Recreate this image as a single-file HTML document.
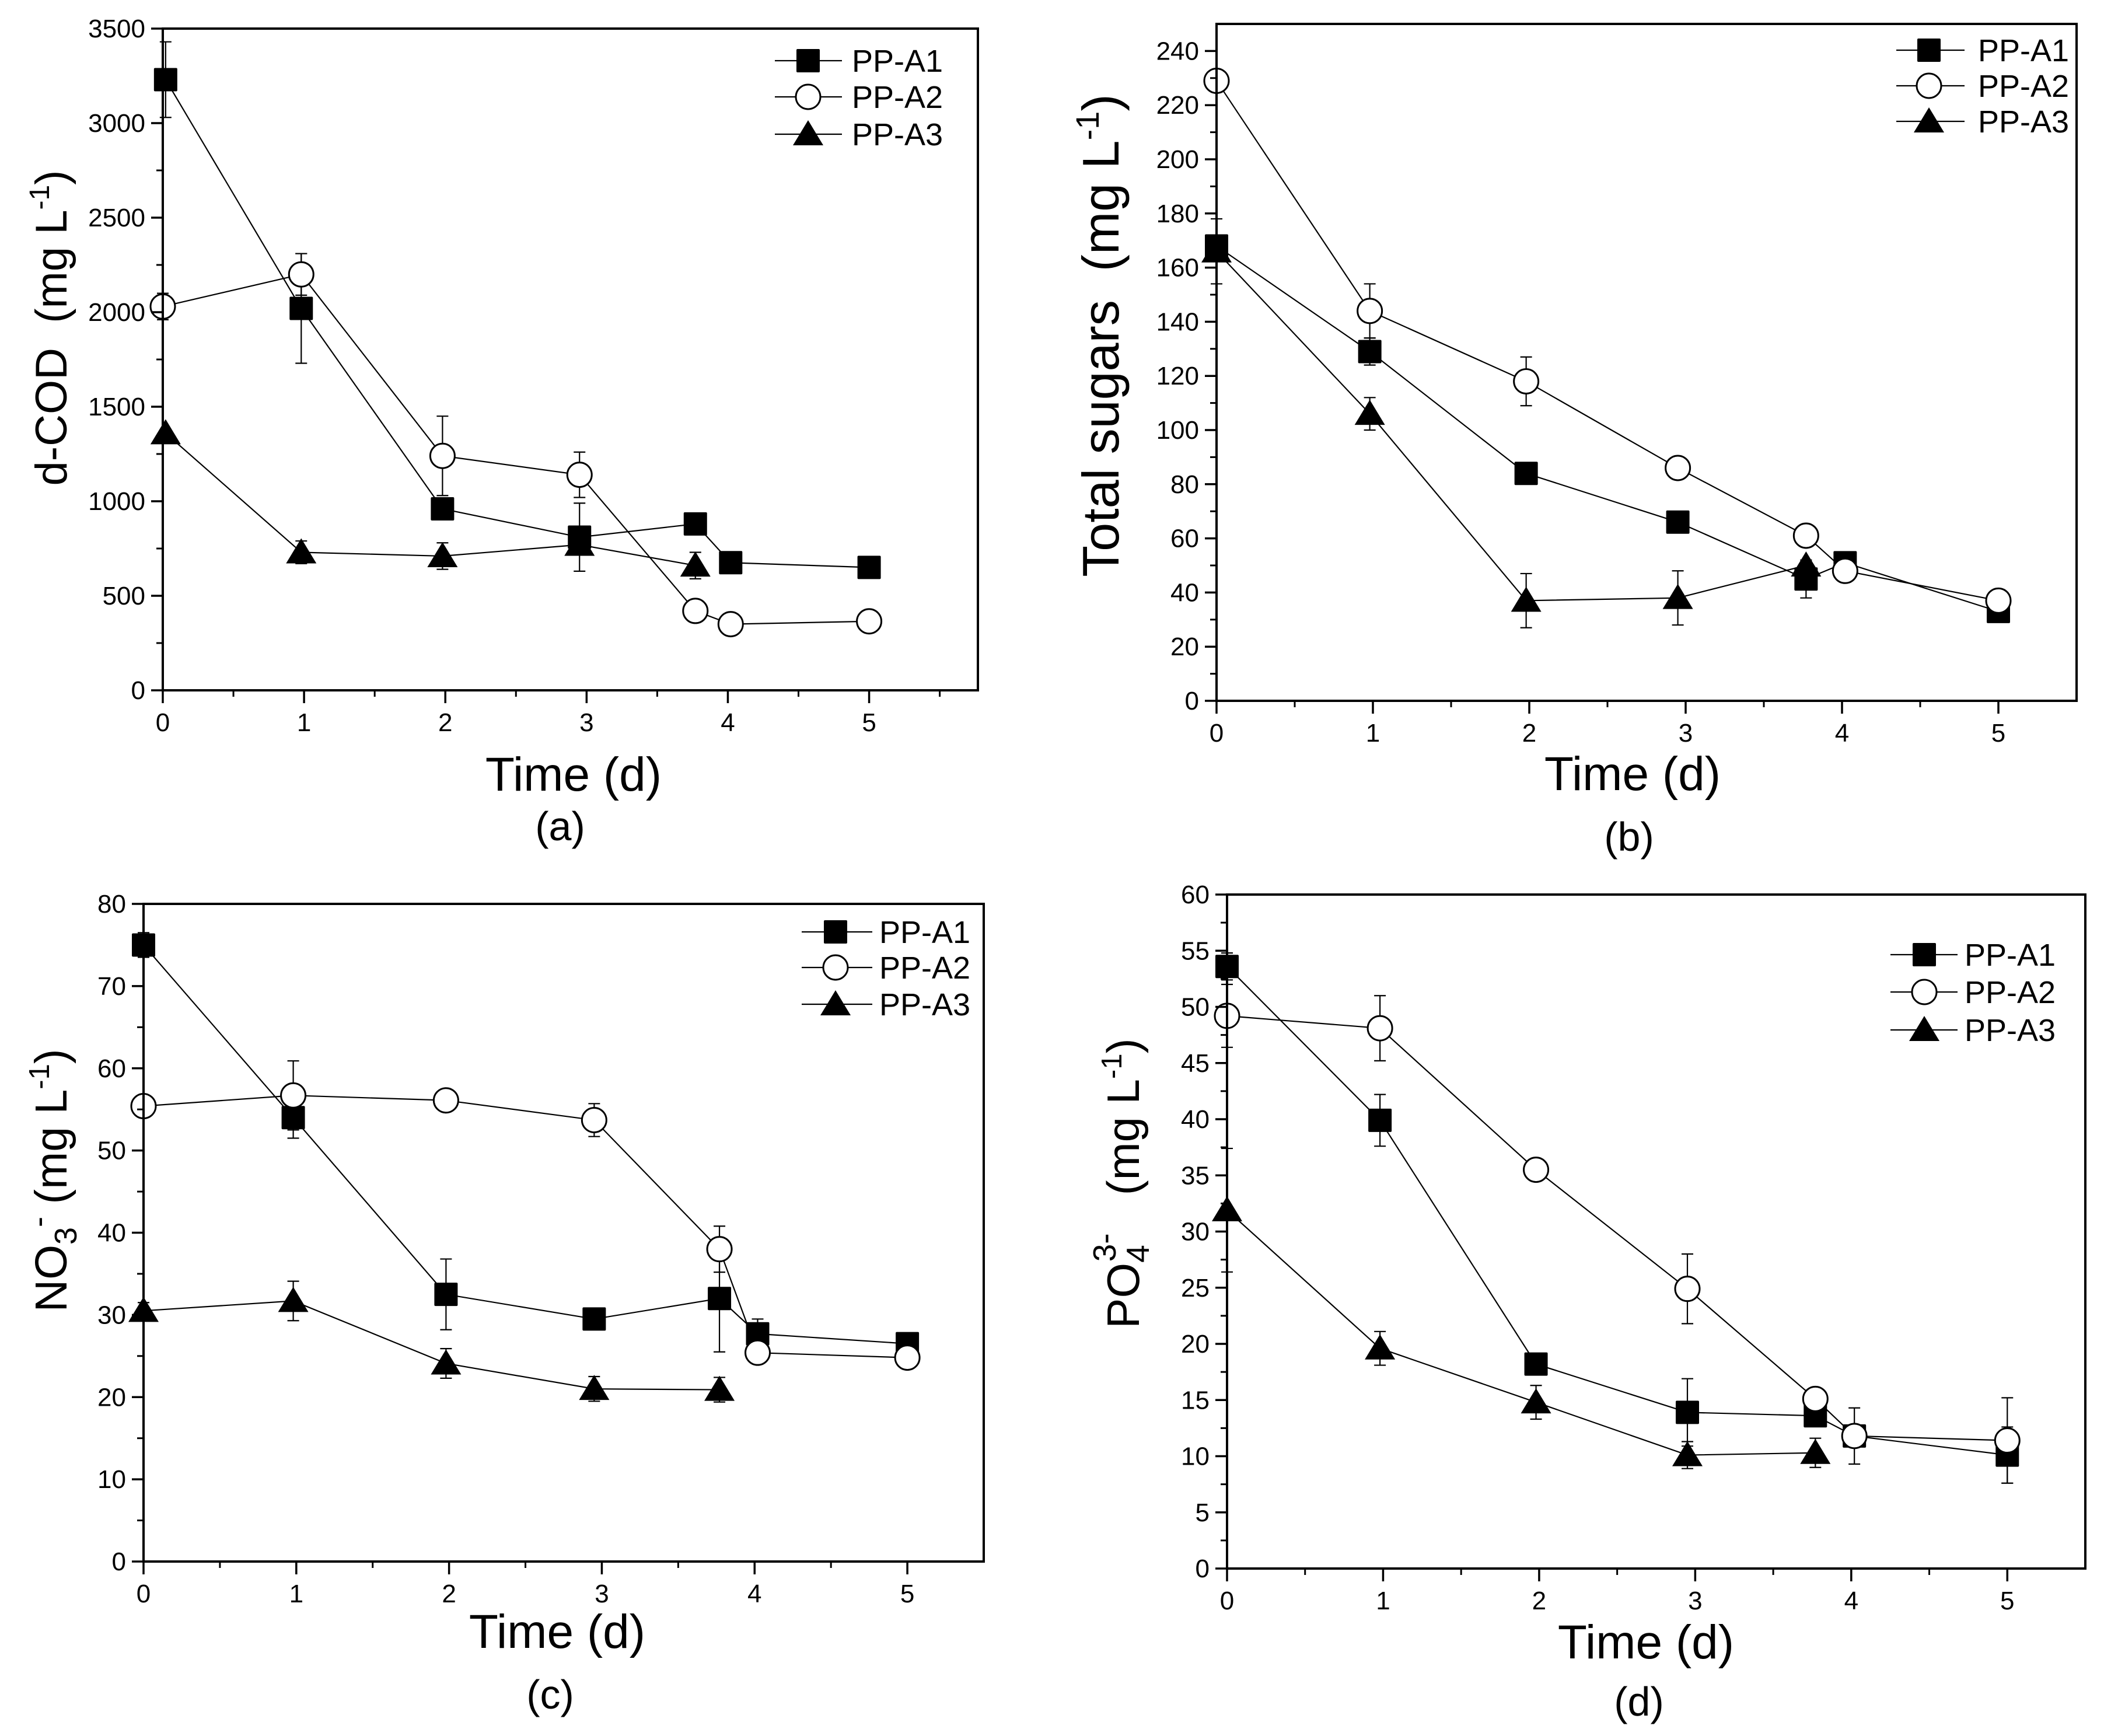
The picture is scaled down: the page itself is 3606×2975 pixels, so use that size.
<!DOCTYPE html>
<html><head><meta charset="utf-8"><style>
html,body{margin:0;padding:0;background:#fff;}
svg{display:block;font-family:"Liberation Sans",Arial,sans-serif;}
</style></head><body>
<svg id="fig" width="3606" height="2975" viewBox="0 0 3606 2975" xmlns="http://www.w3.org/2000/svg">
<rect width="3606" height="2975" fill="#fff"/>
</svg>
<script>
// ---- data (shared time axis) ----
const timeA = [0.02, 0.98, 1.98, 2.95, 3.77, 4.02, 5];
const timeB = [0, 0.98, 1.98, 2.95, 3.77, 4.02, 5];
const xTicks = [0, 1, 2, 3, 4, 5];
const seriesNames = ["PP-A1", "PP-A2", "PP-A3"];
// panel a: d-COD
const codA1 = [3230, 2020, 960, 810, 880, 675, 650];
const codA1err = [200, 290, 0, 180, 0, 0, 0];
const codA2 = [2030, 2200, 1240, 1140, 420, 350, 365];
const codA2err = [70, 110, 210, 120, 30, 20, 20];
const codA3 = [1360, 730, 710, 770, 660];
const codA3err = [0, 60, 70, 0, 70];
const codTicks = [0, 500, 1000, 1500, 2000, 2500, 3000, 3500];
// panel b: total sugars
const sugA1 = [168, 129, 84, 66, 45, 51, 33];
const sugA1err = [4, 5, 0, 0, 7, 0, 0];
const sugA2 = [229, 144, 118, 86, 61, 48, 37];
const sugA2err = [2, 10, 9, 3, 3, 3, 2];
const sugA3 = [166, 106, 37, 38, 50];
const sugA3err = [12, 6, 10, 10, 0];
const sugTicks = [0, 20, 40, 60, 80, 100, 120, 140, 160, 180, 200, 220, 240];
// panel c: nitrate
const no3A1 = [75, 54, 32.5, 29.5, 32, 27.7, 26.5];
const no3A1err = [1.5, 2.5, 4.3, 0, 6.5, 1.8, 0];
const no3A2 = [55.4, 56.7, 56.1, 53.7, 38, 25.4, 24.8];
const no3A2err = [0, 4.2, 1.3, 2, 2.8, 1, 1];
const no3A3 = [30.5, 31.7, 24.1, 21, 20.9];
const no3A3err = [1, 2.4, 1.8, 1.5, 1.5];
const no3Ticks = [0, 10, 20, 30, 40, 50, 60, 70, 80];
// panel d: phosphate
const po4A1 = [53.6, 39.9, 18.2, 13.9, 13.6, 11.8, 10.1];
const po4A1err = [1.2, 2.3, 0, 3, 0, 1, 2.5];
const po4A2 = [49.2, 48.1, 35.5, 24.9, 15.1, 11.8, 11.4];
const po4A2err = [2.8, 2.9, 0.7, 3.1, 0.3, 2.5, 3.8];
const po4A3 = [31.9, 19.6, 14.8, 10.1, 10.3];
const po4A3err = [5.5, 1.5, 1.5, 1.2, 1.3];
const po4Ticks = [0, 5, 10, 15, 20, 25, 30, 35, 40, 45, 50, 55, 60];

const NS = "http://www.w3.org/2000/svg";
const svg = document.getElementById('fig');
function mk(tag, attrs, parent) {
  const e = document.createElementNS(NS, tag);
  for (const k in attrs) e.setAttribute(k, attrs[k]);
  (parent || svg).appendChild(e);
  return e;
}

const panels = [
  {id:'a', L:279, R:1676, T:49, B:1183, xmax:5.77, ymax:3500, minor:250, ticks:codTicks,
   s:[[timeA,codA1,codA1err],[timeB,codA2,codA2err],[timeA,codA3,codA3err]],
   leg:{x1:1328,x2:1443,mx:1385,tx:1460,rows:[104,166,230]},
   yt:{x:86,y:562,fs:76}, title:'d-COD', xt:{x:983,y:1355}, lab:{x:960,y:1440}},
  {id:'b', L:2085, R:3559, T:41, B:1201, xmax:5.5, ymax:250, minor:10, ticks:sugTicks,
   s:[[timeB,sugA1,sugA1err],[timeB,sugA2,sugA2err],[timeB,sugA3,sugA3err]],
   leg:{x1:3250,x2:3367,mx:3306,tx:3390,rows:[86,147,208]},
   yt:{x:1889,y:575,fs:88}, title:'Total sugars', xt:{x:2798,y:1354}, lab:{x:2792,y:1458}},
  {id:'c', L:246, R:1686, T:1549, B:2676, xmax:5.5, ymax:80, minor:5, ticks:no3Ticks,
   s:[[timeB,no3A1,no3A1err],[timeB,no3A2,no3A2err],[timeB,no3A3,no3A3err]],
   leg:{x1:1374,x2:1495,mx:1432,tx:1507,rows:[1597,1658,1721]},
   yt:{x:86,y:2023,fs:77}, title:'NO3', xt:{x:955,y:2824}, lab:{x:943,y:2928}},
  {id:'d', L:2103, R:3574, T:1533, B:2688, xmax:5.5, ymax:60, minor:2.5, ticks:po4Ticks,
   s:[[timeB,po4A1,po4A1err],[timeB,po4A2,po4A2err],[timeB,po4A3,po4A3err]],
   leg:{x1:3240,x2:3355,mx:3298,tx:3367,rows:[1636,1700,1765]},
   yt:{x:1924,y:2028,fs:78}, title:'PO4', xt:{x:2821,y:2842}, lab:{x:2809,y:2940}}
];

function marker(g, kind, cx, cy) {
  let e;
  if (kind === 0) e = mk('rect', {x:cx-20, y:cy-20, width:40, height:40, rx:2, fill:'#000'}, g);
  else if (kind === 1) e = mk('circle', {cx:cx, cy:cy, r:21, fill:'#fff', stroke:'#000', 'stroke-width':3}, g);
  else e = mk('polygon', {points:`${cx},${cy-24} ${cx+26},${cy+19} ${cx-26},${cy+19}`, fill:'#000'}, g);
  return e;
}

panels.forEach(p => {
  const g = mk('g', {});
  
  
  const sx = v => p.L + (p.R - p.L) * v / p.xmax;
  const sy = v => p.B - (p.B - p.T) * v / p.ymax;
  p.s.forEach((sr, k) => {
    const [xs, ys, es] = sr;
    const sg = mk('g', {}, g);
    
    
    const pts = ys.map((v, i) => sx(xs[i]) + ',' + sy(v)).join(' ');
    const pl = mk('polyline', {points:pts, fill:'none', stroke:'#000', 'stroke-width':2.2}, sg);
    
    
    ys.forEach((v, i) => {
      const e = es[i];
      if (e > 0) {
        const x = sx(xs[i]);
        const eb = mk('path', {d:`M${x},${sy(v-e)}V${sy(v+e)}M${x-10},${sy(v-e)}H${x+10}M${x-10},${sy(v+e)}H${x+10}`, stroke:'#000', 'stroke-width':2.2, fill:'none'}, sg);
        
        
      }
    });
    ys.forEach((v, i) => {
      const m = marker(sg, k, sx(xs[i]), sy(v));
      
      
    });
  });
  const fr = mk('rect', {x:p.L, y:p.T, width:p.R-p.L, height:p.B-p.T, fill:'none', stroke:'#000', 'stroke-width':4}, g);
  
  
  p.ticks.forEach(t => {
    mk('line', {x1:p.L-20, x2:p.L, y1:sy(t), y2:sy(t), stroke:'#000', 'stroke-width':3.5}, g);
    const tl = mk('text', {x:p.L-30, y:sy(t)+15, 'font-size':44, 'text-anchor':'end'}, g);
    tl.textContent = t;
    
    
  });
  for (let v = p.minor; v < p.ymax; v += p.minor * 2) {
    mk('line', {x1:p.L-11, x2:p.L, y1:sy(v), y2:sy(v), stroke:'#000', 'stroke-width':3}, g);
  }
  xTicks.forEach(t => {
    mk('line', {x1:sx(t), x2:sx(t), y1:p.B, y2:p.B+22, stroke:'#000', 'stroke-width':3.5}, g);
    const tl = mk('text', {x:sx(t), y:p.B+70, 'font-size':44, 'text-anchor':'middle'}, g);
    tl.textContent = t;
    
    
  });
  for (let v = 0.5; v < p.xmax; v += 1) {
    mk('line', {x1:sx(v), x2:sx(v), y1:p.B, y2:p.B+11, stroke:'#000', 'stroke-width':3}, g);
  }
  const lg = mk('g', {}, g);
  
  
  seriesNames.forEach((n, k) => {
    const y = p.leg.rows[k];
    mk('line', {x1:p.leg.x1, x2:p.leg.x2, y1:y, y2:y, stroke:'#000', 'stroke-width':2.2}, lg);
    marker(lg, k, p.leg.mx, y);
    const t = mk('text', {x:p.leg.tx, y:y+19, 'font-size':54}, lg);
    t.textContent = n;
    
    
  });
  const f = p.yt.fs, r = f / 82;
  const sub = Math.round(58 * r), sup = Math.round(52 * r);
  const d18 = Math.round(18 * r), d32 = Math.round(32 * r), d50 = Math.round(50 * r), d60 = Math.round(60 * r), d42 = Math.round(42 * r), dx30 = Math.round(30 * r);
  const yt = mk('text', {x:0, y:0, 'font-size':f, 'text-anchor':'middle', transform:`translate(${p.yt.x + 28},${p.yt.y}) rotate(-90)`}, g);
  
  
  if (p.title === 'NO3') {
    yt.innerHTML = `NO<tspan font-size="${sub}" dy="${d18}">3</tspan><tspan font-size="${sub}" dy="-${d50}">-</tspan><tspan dy="${d32}"> (mg L</tspan><tspan font-size="${sup}" dy="-${d32}">-1</tspan><tspan dy="${d32}">)</tspan>`;
  } else if (p.title === 'PO4') {
    yt.innerHTML = `PO<tspan font-size="${sub}" dy="${d18}">4</tspan><tspan font-size="${sub}" dx="-${dx30}" dy="-${d60}">3-</tspan><tspan dy="${d42}" xml:space="preserve">   (mg L</tspan><tspan font-size="${sup}" dy="-${d32}">-1</tspan><tspan dy="${d32}">)</tspan>`;
  } else {
    yt.innerHTML = p.title + `<tspan xml:space="preserve">  (mg L</tspan><tspan font-size="${sup}" dy="-${d32}">-1</tspan><tspan dy="${d32}">)</tspan>`;
  }
  const xt = mk('text', {x:p.xt.x, y:p.xt.y, 'font-size':82, 'text-anchor':'middle'}, g);
  xt.textContent = 'Time (d)';
  
  
  const lb = mk('text', {x:p.lab.x, y:p.lab.y, 'font-size':70, 'text-anchor':'middle'}, g);
  lb.textContent = '(' + p.id + ')';
  
  
});
</script>
</body></html>
